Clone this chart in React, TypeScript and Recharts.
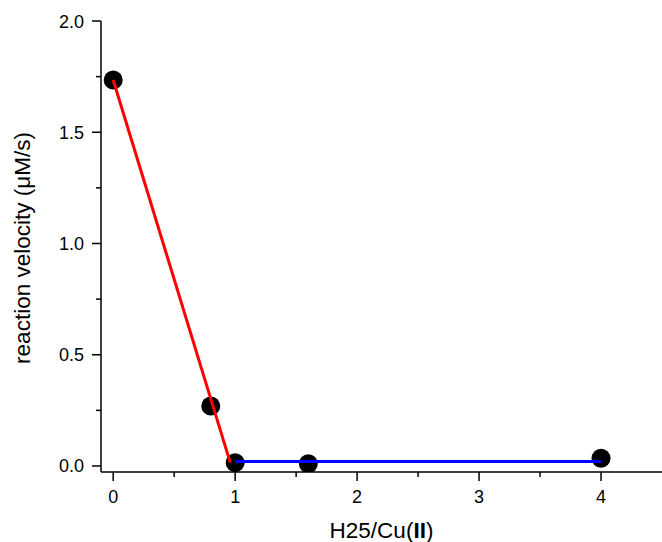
import React from "react";
import { ScatterChart, Scatter, XAxis, YAxis, Label } from "recharts";

const ratios = [0, 0.8, 1, 1.6, 4];
const velocities = [1.735, 0.27, 0.015, 0.01, 0.035];
const redFit = [
  { x: 0, y: 1.735 },
  { x: 0.96, y: 0.015 },
];
const blueFit = [
  { x: 1, y: 0.02 },
  { x: 4, y: 0.02 },
];
const xTicks = [0, 0.5, 1, 1.5, 2, 2.5, 3, 3.5, 4];
const yTicks = [0, 0.25, 0.5, 0.75, 1, 1.25, 1.5, 1.75, 2];

const points = ratios.map((x, i) => ({ x, y: velocities[i] }));
const FONT = "'Liberation Sans', Arial, sans-serif";

function XTick({ x, y, payload }: any) {
  const major = Number.isInteger(payload.value);
  return (
    <g>
      <line x1={x} y1={y} x2={x} y2={y + (major ? 9 : 5)} stroke="#000" strokeWidth={1.5} />
      {major && (
        <text x={x} y={y + 31} textAnchor="middle" fontSize={18} fontFamily={FONT} fill="#000">
          {payload.value}
        </text>
      )}
    </g>
  );
}

function YTick({ x, y, payload }: any) {
  const major = Math.abs(payload.value * 2 - Math.round(payload.value * 2)) < 1e-6;
  return (
    <g>
      <line x1={x} y1={y} x2={x - (major ? 9 : 5)} y2={y} stroke="#000" strokeWidth={1.5} />
      {major && (
        <text x={x - 17} y={y + 6.5} textAnchor="end" fontSize={18} fontFamily={FONT} fill="#000">
          {payload.value.toFixed(1)}
        </text>
      )}
    </g>
  );
}

const dot = ({ cx, cy }: any) => <circle cx={cx} cy={cy} r={9.5} fill="#000" />;
const noDot = () => <g />;

export default function App() {
  return (
    <div style={{ position: "absolute", left: 0, top: 0, background: "#fff" }}>
      <ScatterChart width={662} height={542} margin={{ top: 21, right: 0, bottom: 0, left: 0 }}>
        <XAxis
          type="number"
          dataKey="x"
          domain={[-0.1, 4.5]}
          ticks={xTicks}
          interval={0}
          height={70}
          tickSize={0}
          tickMargin={0}
          tickLine={false}
          tick={<XTick />}
          axisLine={{ stroke: "#000", strokeWidth: 1.5 }}
          allowDataOverflow
        >
          <Label
            content={({ viewBox }: any) => (
              <text
                x={viewBox.x + viewBox.width / 2}
                y={viewBox.y + 66}
                textAnchor="middle"
                fontSize={22.5}
                fontFamily={FONT}
                fill="#000"
              >
                H25/Cu(<tspan fontWeight="bold">II</tspan>)
              </text>
            )}
          />
        </XAxis>
        <YAxis
          type="number"
          dataKey="y"
          domain={[-0.027, 2]}
          ticks={yTicks}
          interval={0}
          width={101}
          tickSize={0}
          tickMargin={0}
          tickLine={false}
          tick={<YTick />}
          axisLine={{ stroke: "#000", strokeWidth: 1.5 }}
          allowDataOverflow
        >
          <Label
            content={({ viewBox }: any) => {
              const cx = 22;
              const cy = viewBox.y + viewBox.height / 2 + 1.5;
              return (
                <text
                  x={cx}
                  y={cy}
                  transform={`rotate(-90 ${cx} ${cy})`}
                  textAnchor="middle"
                  dominantBaseline="central"
                  fontSize={22.5}
                  fontFamily={FONT}
                  fill="#000"
                >
                  reaction velocity (μM/s)
                </text>
              );
            }}
          />
        </YAxis>
        <Scatter data={points} shape={dot} isAnimationActive={false} />
        <Scatter
          data={redFit}
          line={{ stroke: "#ff0000", strokeWidth: 3 }}
          shape={noDot}
          isAnimationActive={false}
        />
        <Scatter
          data={blueFit}
          line={{ stroke: "#0000ff", strokeWidth: 3 }}
          shape={noDot}
          isAnimationActive={false}
        />
      </ScatterChart>
    </div>
  );
}
